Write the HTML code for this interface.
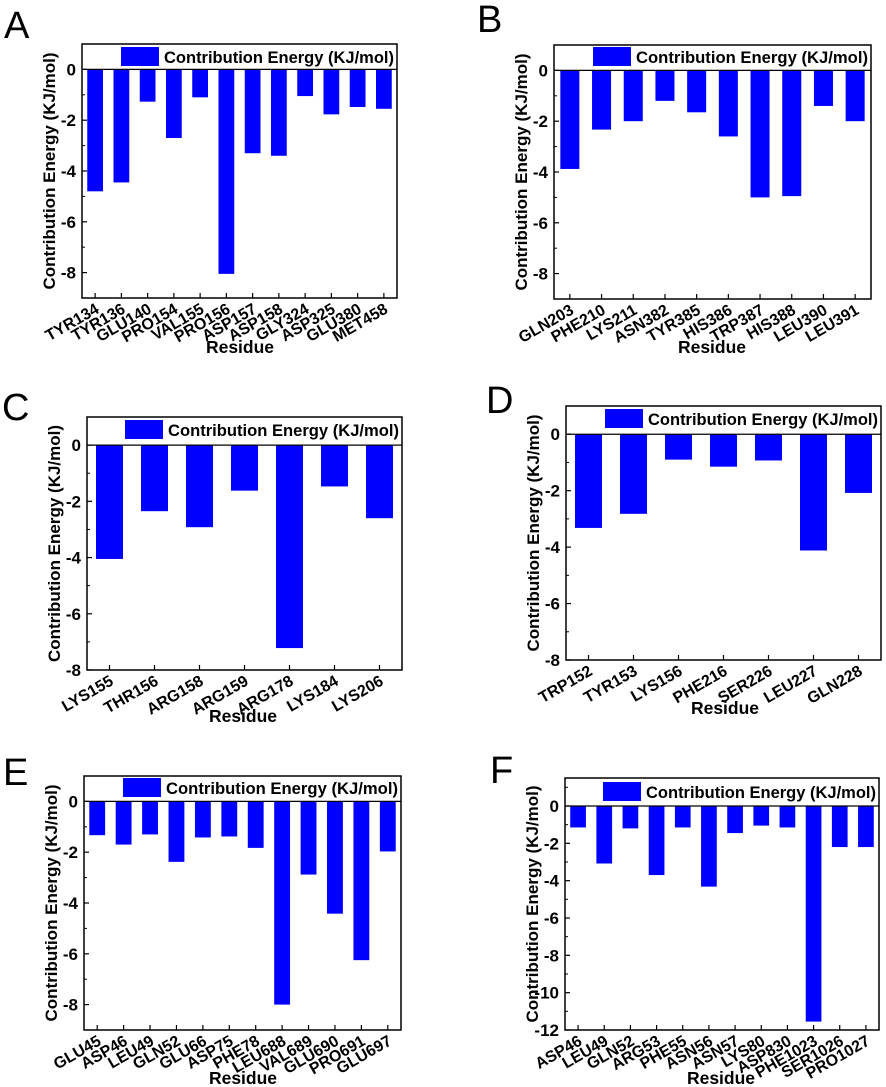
<!DOCTYPE html>
<html><head><meta charset="utf-8"><style>
html,body{margin:0;padding:0;background:#fff;}
svg{display:block;font-family:"Liberation Sans",Arial,sans-serif;}
</style></head><body>
<svg id="fig" width="886" height="1087" viewBox="0 0 886 1087" xmlns="http://www.w3.org/2000/svg"></svg>
<script>
const catsA=["TYR134","TYR136","GLU140","PRO154","VAL155","PRO156","ASP157","ASP158","GLY324","ASP325","GLU380","MET458"];
const valsA=[-4.8,-4.45,-1.27,-2.7,-1.1,-8.05,-3.3,-3.4,-1.05,-1.77,-1.48,-1.55];
const catsB=["GLN203","PHE210","LYS211","ASN382","TYR385","HIS386","TRP387","HIS388","LEU390","LEU391"];
const valsB=[-3.88,-2.33,-2.0,-1.2,-1.65,-2.6,-5.0,-4.95,-1.4,-2.0];
const catsC=["LYS155","THR156","ARG158","ARG159","ARG178","LYS184","LYS206"];
const valsC=[-4.05,-2.35,-2.92,-1.62,-7.22,-1.47,-2.6];
const catsD=["TRP152","TYR153","LYS156","PHE216","SER226","LEU227","GLN228"];
const valsD=[-3.32,-2.82,-0.9,-1.15,-0.93,-4.12,-2.08];
const catsE=["GLU45","ASP46","LEU49","GLN52","GLU66","ASP75","PHE78","LEU688","VAL689","GLU690","PRO691","GLU697"];
const valsE=[-1.33,-1.7,-1.3,-2.38,-1.42,-1.38,-1.83,-8.0,-2.88,-4.42,-6.25,-1.97];
const catsF=["ASP46","LEU49","GLN52","ARG53","PHE55","ASN56","ASN57","LYS80","ASP830","PHE1023","SER1026","PRO1027"];
const valsF=[-1.15,-3.08,-1.2,-3.7,-1.15,-4.32,-1.45,-1.05,-1.15,-11.55,-2.2,-2.2];
const ticksA=[0,-2,-4,-6,-8];
const ticksF=[0,-2,-4,-6,-8,-10,-12];

const NS="http://www.w3.org/2000/svg";
const svg=document.getElementById('fig');
function mk(tag,attrs,parent,text){const e=document.createElementNS(NS,tag);for(const k in attrs)e.setAttribute(k,attrs[k]);if(text!==undefined)e.textContent=text;parent.appendChild(e);return e;}

function panel(p){
  const g=mk('g',{},svg);
  
  
  const yS=v=>p.y0+(p.ymax-v)/(p.ymax-p.ymin)*(p.y1-p.y0);
  const n=p.cats.length, band=(p.x1-p.x0)/n;
  const xS=i=>p.x0+band*(i+0.5);
  const lt=mk('text',{x:p.lx,y:p.ly,'font-size':38,fill:'#000'},g,p.letter);
  
  
  p.vals.forEach((v,i)=>{
    const bw=band*0.6, y0=yS(0), y1=yS(v);
    const r=mk('rect',{x:xS(i)-bw/2,y:Math.min(y0,y1),width:bw,height:Math.abs(y1-y0),fill:'#0000ff'},g);
    
    
  });
  const zl=mk('line',{x1:p.x0,x2:p.x1,y1:yS(0),y2:yS(0),stroke:'#000','stroke-width':1.2},g);
  
  
  const fr=mk('rect',{x:p.x0,y:p.y0,width:p.x1-p.x0,height:p.y1-p.y0,fill:'none',stroke:'#000','stroke-width':1.5},g);
  
  
  p.ticks.forEach(t=>{
    const y=yS(t);
    mk('line',{x1:p.x0,x2:p.x0+5,y1:y,y2:y,stroke:'#000','stroke-width':1.2},g);
    const tl=mk('text',{x:p.x0-6,y:y+6,'font-size':17,'font-weight':'bold','text-anchor':'end'},g,String(t));
    
    
  });
  for(let i=0;i<p.ticks.length;i++){
    const m=p.ticks[i]-1; if(m>=p.ymin){const y=yS(m);mk('line',{x1:p.x0,x2:p.x0+3,y1:y,y2:y,stroke:'#000','stroke-width':1},g);}
  }
  if(p.ymax>=1){const y=yS(p.ticks[0]+1);mk('line',{x1:p.x0,x2:p.x0+3,y1:y,y2:y,stroke:'#000','stroke-width':1},g);}
  p.cats.forEach((c,i)=>{
    const x=xS(i);
    mk('line',{x1:x,x2:x,y1:p.y1,y2:p.y1-5,stroke:'#000','stroke-width':1.2},g);
    const tx=x+5, ty=p.y1+14;
    const xl=mk('text',{x:tx,y:ty,'font-size':16,'font-weight':'bold','text-anchor':'end',transform:`rotate(-30 ${tx} ${ty})`},g,c);
    
    
  });
  const cy=(p.y0+p.y1)/2, ax=p.x0-27;
  const yt=mk('text',{x:ax,y:cy,'font-size':17,'font-weight':'bold','text-anchor':'middle',transform:`rotate(-90 ${ax} ${cy})`},g,'Contribution Energy (KJ/mol)');
  
  
  const xt=mk('text',{x:p.rx,y:p.ry,'font-size':17.5,'font-weight':'bold','text-anchor':'middle'},g,'Residue');
  
  
  const lg=mk('g',{},g);
  
  
  mk('rect',{x:p.legX,y:p.legY,width:38,height:19,fill:'#0000ff'},lg);
  mk('text',{x:p.legX+43,y:p.legY+16,'font-size':16.5,'font-weight':'bold',textLength:p.x1-p.legX-46,lengthAdjust:'spacingAndGlyphs'},lg,'Contribution Energy (KJ/mol)');
}

panel({letter:'A',cats:catsA,vals:valsA,ticks:ticksA,x0:82,x1:397,y0:44,y1:298,ymax:1,ymin:-9,lx:4,ly:38,rx:240,ry:353,legX:121,legY:47});
panel({letter:'B',cats:catsB,vals:valsB,ticks:ticksA,x0:554,x1:871,y0:45,y1:299,ymax:1,ymin:-9,lx:477,ly:32,rx:712,ry:353,legX:593,legY:47});
panel({letter:'C',cats:catsC,vals:valsC,ticks:ticksA,x0:87,x1:402,y0:417,y1:670,ymax:1,ymin:-8,lx:2,ly:420,rx:243,ry:722,legX:125,legY:420});
panel({letter:'D',cats:catsD,vals:valsD,ticks:ticksA,x0:566,x1:881,y0:406,y1:660,ymax:1,ymin:-8,lx:486,ly:413,rx:725,ry:714,legX:605,legY:409});
panel({letter:'E',cats:catsE,vals:valsE,ticks:ticksA,x0:84,x1:401,y0:776,y1:1030,ymax:1,ymin:-9,lx:3,ly:785,rx:243,ry:1084,legX:123,legY:778});
panel({letter:'F',cats:catsF,vals:valsF,ticks:ticksF,x0:565,x1:879,y0:778,y1:1030,ymax:1.5,ymin:-12,lx:490,ly:783,rx:721,ry:1084,legX:603,legY:782});
</script>
</body></html>
